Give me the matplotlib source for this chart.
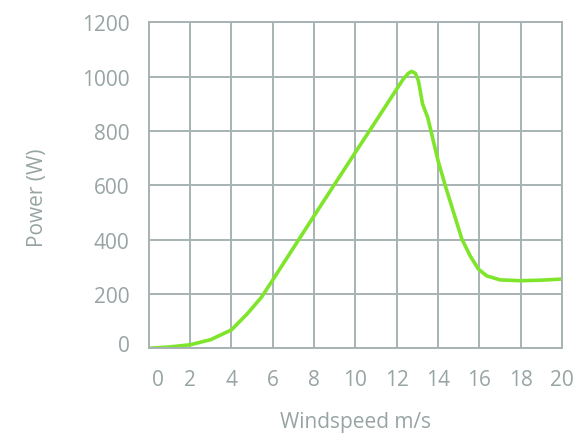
import matplotlib
matplotlib.use("Agg")
import matplotlib.pyplot as plt
import matplotlib.transforms as mtransforms

# Curva de potencia (velocidade do vento m/s -> potencia W)
wind_speed = [0, 1, 2, 3, 4, 4.75, 5.45, 6, 7, 8, 9, 10, 11, 12, 12.3, 12.55,
              12.72, 12.9, 13.05, 13.25, 13.5, 14.0, 14.35, 14.75, 15.15,
              15.55, 15.95, 16.35, 17, 18, 19, 20]
power = [0, 5, 13, 32, 68, 126, 188, 252, 370, 488, 605, 722, 838, 955, 990,
         1012, 1020, 1013, 985, 900, 850, 691, 599, 501, 403,
         341, 292, 267, 252, 249, 251, 255]

x_ticks = [0, 2, 4, 6, 8, 10, 12, 14, 16, 18, 20]
y_ticks = [0, 200, 400, 600, 800, 1000, 1200]

GRID = "#a7b2b2"
TEXT = "#98a4a4"
LINE = "#7ee52b"

plt.rcParams["font.family"] = ["Open Sans", "DejaVu Sans"]

fig = plt.figure(figsize=(5.77, 4.35), dpi=100)
ax = fig.add_axes([0.258, 0.197, 0.716, 0.749])

ax.plot(wind_speed, power, color=LINE, linewidth=2.6,
        solid_capstyle="round", solid_joinstyle="round")

ax.set_xlim(0, 20)
ax.set_ylim(0, 1200)
ax.set_xticks(x_ticks)
ax.set_yticks(y_ticks)
ax.grid(color=GRID, linewidth=1.4)
ax.set_axisbelow(True)
for spine in ax.spines.values():
    spine.set_color(GRID)
    spine.set_linewidth(1.4)

ax.tick_params(length=0, labelsize=15, labelcolor=TEXT)
ax.tick_params(axis="x", pad=15)
ax.tick_params(axis="y", pad=14)

# o rotulo "0" do eixo x fica um pouco deslocado para a direita
fig.canvas.draw()
lbl_x0 = ax.get_xticklabels()[0]
lbl_x0.set_transform(lbl_x0.get_transform()
                     + mtransforms.ScaledTranslation(0.09, 0, fig.dpi_scale_trans))
lbl_y0 = ax.get_yticklabels()[0]
lbl_y0.set_transform(lbl_y0.get_transform()
                     + mtransforms.ScaledTranslation(0, 0.05, fig.dpi_scale_trans))

ax.set_xlabel("Windspeed m/s", color=TEXT, fontsize=15, va="center")
ax.set_ylabel("Power (W)", color=TEXT, fontsize=15, va="center")
ax.xaxis.set_label_coords(0.5, -0.224)
ax.yaxis.set_label_coords(-0.27, 0.464)

fig.savefig("out.png", dpi=100)
